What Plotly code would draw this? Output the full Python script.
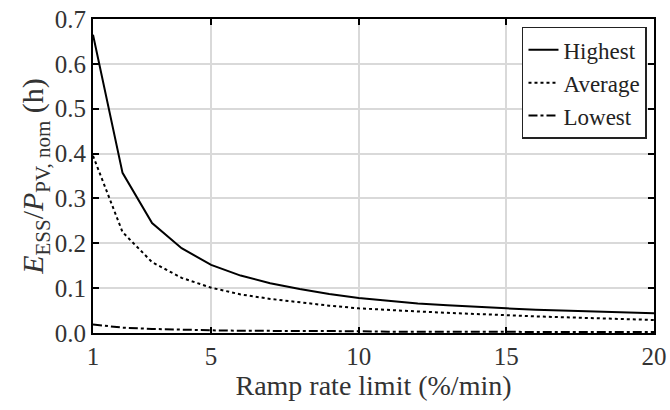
import plotly.graph_objects as go

ramp_rate = list(range(1, 21))
highest = [0.665, 0.357, 0.245, 0.189, 0.152, 0.128, 0.111, 0.098, 0.087, 0.078,
           0.072, 0.066, 0.062, 0.058, 0.055, 0.052, 0.050, 0.048, 0.046, 0.044]
average = [0.395, 0.225, 0.158, 0.123, 0.101, 0.086, 0.076, 0.068, 0.061, 0.055,
           0.051, 0.048, 0.045, 0.042, 0.040, 0.037, 0.035, 0.033, 0.031, 0.029]
lowest = [0.019, 0.012, 0.009, 0.007, 0.006, 0.005, 0.005, 0.004, 0.004, 0.004,
          0.003, 0.003, 0.003, 0.003, 0.003, 0.003, 0.002, 0.002, 0.002, 0.002]
x_ticks = [1, 5, 10, 15, 20]
y_ticks = [0.0, 0.1, 0.2, 0.3, 0.4, 0.5, 0.6, 0.7]

FONT = "Times New Roman, Liberation Serif, serif"

fig = go.Figure()
fig.add_trace(go.Scatter(x=ramp_rate, y=highest, name="Highest", mode="lines",
                         line=dict(color="black", width=2, dash="solid")))
fig.add_trace(go.Scatter(x=ramp_rate, y=average, name="Average", mode="lines",
                         line=dict(color="black", width=2, dash="dot")))
fig.add_trace(go.Scatter(x=ramp_rate, y=lowest, name="Lowest", mode="lines",
                         line=dict(color="black", width=2, dash="dashdot")))

axis_common = dict(
    showline=True, linecolor="black", linewidth=2, mirror="ticks",
    ticks="inside", ticklen=6, tickcolor="black", tickwidth=1.5,
    showgrid=True, gridcolor="#d9d9d9", gridwidth=1.5, zeroline=False,
    automargin=False,
    tickfont=dict(family=FONT, size=25, color="#333333"),
)

fig.update_xaxes(range=[1, 20], tickvals=x_ticks, ticktext=[str(v) for v in x_ticks],
                 title=dict(text="Ramp rate limit (%/min)", font=dict(family=FONT, size=28, color="#333333"), standoff=2),
                 **axis_common)
fig.update_yaxes(range=[0, 0.7], tickvals=y_ticks, ticktext=[f"{v:.1f}" for v in y_ticks],
                 title=dict(text="<i>E</i><sub>ESS</sub>/<i>P</i><sub>PV, nom</sub> (h)",
                            font=dict(family=FONT, size=30, color="#333333"), standoff=2),
                 **axis_common)

fig.update_layout(
    width=670, height=410,
    margin=dict(l=93, r=16, t=19, b=77, autoexpand=False),
    plot_bgcolor="white", paper_bgcolor="white",
    showlegend=True,
    legend=dict(x=0.9875, y=0.975, xanchor="right", yanchor="top",
                bgcolor="white", bordercolor="#222222", borderwidth=1.5,
                font=dict(family=FONT, size=23, color="#222222"),
                itemwidth=30, tracegroupgap=0),
)

fig.write_html("out.html", config={"displayModeBar": False},
               post_script="document.body.style.margin='0';document.body.style.overflow='hidden';")
